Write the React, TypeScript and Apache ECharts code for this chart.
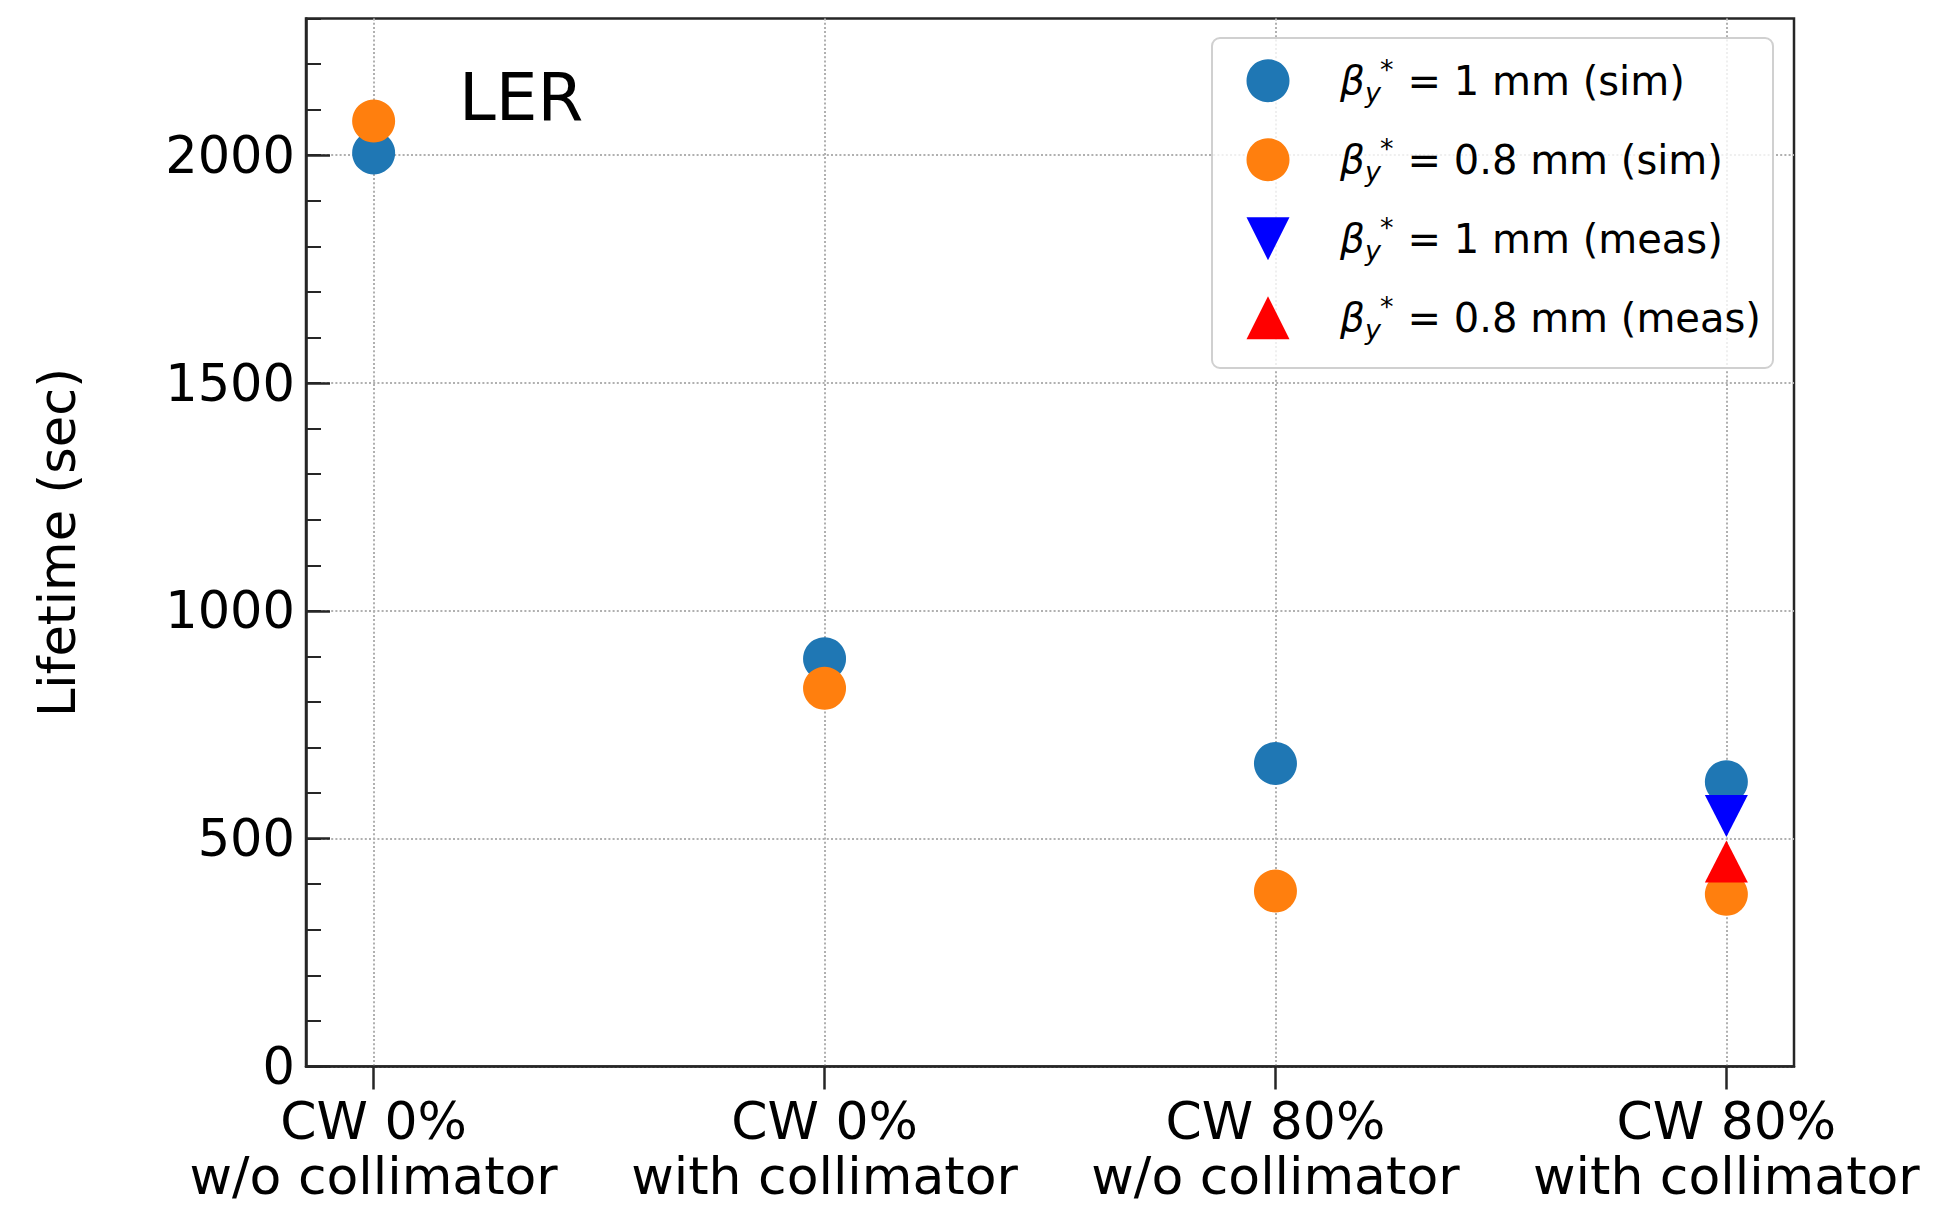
import React, { useEffect, useRef } from "react";
import * as echarts from "echarts";

const categories = [
  "CW 0%\nw/o collimator",
  "CW 0%\nwith collimator",
  "CW 80%\nw/o collimator",
  "CW 80%\nwith collimator",
];
const categoryPositions = [0, 1, 2, 3];
const sim1mm = [2005, 895, 665, 625];
const sim08mm = [2075, 830, 385, 378];
const meas1mm: (number | null)[] = [null, null, null, 550];
const meas08mm: (number | null)[] = [null, null, null, 450];
const yTicks = [0, 500, 1000, 1500, 2000];
const yMax = 2300;
const legendTails = ["= 1 mm (sim)", "= 0.8 mm (sim)", "= 1 mm (meas)", "= 0.8 mm (meas)"];
const seriesNames = legendTails.map((t) => "β_y^* " + t);

const FONT = "DejaVu Sans";
const AXIS_COLOR = "#262626";

function toPoints(vals: (number | null)[]) {
  const out: [number, number][] = [];
  vals.forEach((v, i) => {
    if (v != null) out.push([categoryPositions[i], v]);
  });
  return out;
}

export default function App() {
  const ref = useRef<HTMLDivElement>(null);
  useEffect(() => {
    if (!ref.current) return;
    const chart = echarts.init(ref.current, undefined, { renderer: "svg" });
    const option: any = {
      animation: false,
      textStyle: { fontFamily: FONT },
      grid: {
        left: 306,
        right: 147,
        top: 18.5,
        bottom: 141.5,
        show: true,
        borderColor: AXIS_COLOR,
        borderWidth: 2.5,
        backgroundColor: "transparent",
        containLabel: false,
        outerBoundsMode: "none",
      },
      xAxis: {
        type: "value",
        min: -0.15,
        max: 3.15,
        axisLine: { show: true, onZero: false, lineStyle: { color: AXIS_COLOR, width: 2.5 } },
        axisTick: {
          show: true,
          inside: false,
          length: 23,
          customValues: categoryPositions,
          lineStyle: { color: AXIS_COLOR, width: 2.5 },
        },
        axisLabel: {
          customValues: categoryPositions,
          formatter: (v: number) => {
            const c = categories[Math.round(v)];
            if (!c) return "";
            const [l1, l2] = c.split("\n");
            return "{a|" + l1 + "}\n{b|" + l2 + "}";
          },
          fontFamily: FONT,
          fontSize: 52,
          color: "#000",
          margin: 22.5,
          rich: {
            a: { fontFamily: FONT, fontSize: 52, lineHeight: 64, color: "#000" },
            b: { fontFamily: FONT, fontSize: 52, lineHeight: 46, color: "#000" },
          },
        },
        splitLine: {
          show: true,
          lineStyle: { color: "#b0b0b0", width: 2, type: [2, 2.2] },
        },
      },
      yAxis: [
        {
          type: "value",
          min: 0,
          max: yMax,
          interval: 500,
          name: "Lifetime (sec)",
          nameLocation: "middle",
          nameGap: 223,
          nameTextStyle: { fontFamily: FONT, fontSize: 51, color: "#000" },
          axisLine: { show: true, onZero: false, lineStyle: { color: AXIS_COLOR, width: 2.5 } },
          axisTick: {
            show: true,
            inside: true,
            length: 24,
            customValues: yTicks,
            lineStyle: { color: AXIS_COLOR, width: 2.5 },
          },
          axisLabel: {
            customValues: yTicks,
            formatter: (v: number) => String(v),
            fontFamily: FONT,
            fontSize: 51,
            color: "#000",
            margin: 11,
          },
          splitLine: {
            show: true,
            lineStyle: { color: "#b0b0b0", width: 2, type: [2, 2.2] },
          },
        },
        {
          type: "value",
          min: 0,
          max: yMax,
          interval: 100,
          position: "left",
          axisLine: { show: false, onZero: false },
          axisTick: {
            show: true,
            inside: true,
            length: 15,
            lineStyle: { color: AXIS_COLOR, width: 2 },
          },
          axisLabel: { show: false },
          splitLine: { show: false },
        },
      ],
      legend: {
        orient: "vertical",
        left: 1246.5,
        top: 55.7,
        padding: 0,
        itemWidth: 43,
        itemHeight: 43,
        itemGap: 29,
        selectedMode: false,
        z: 5,
        data: [
          { name: seriesNames[0], icon: "circle" },
          { name: seriesNames[1], icon: "circle" },
          { name: seriesNames[2], icon: "path://M0,0L2,0L1,2Z" },
          { name: seriesNames[3], icon: "triangle" },
        ],
        formatter: (name: string) => {
          const i = seriesNames.indexOf(name);
          return "{sp|}{b|β}{sub|y}{sup|*}{t| " + legendTails[i] + "}";
        },
        textStyle: {
          fontFamily: FONT,
          fontSize: 40,
          color: "#000",
          rich: {
            sp: { width: 45.5, lineHeight: 50 },
            b: { fontFamily: FONT, fontSize: 39, fontStyle: "italic", lineHeight: 50, color: "#000" },
            sub: {
              fontFamily: FONT,
              fontSize: 27,
              fontStyle: "italic",
              verticalAlign: "bottom",
              lineHeight: 34,
              width: 15,
              color: "#000",
            },
            sup: {
              fontFamily: FONT,
              fontSize: 27,
              verticalAlign: "top",
              lineHeight: 18,
              width: 15,
              color: "#000",
            },
            t: { fontFamily: FONT, fontSize: 40, lineHeight: 50, color: "#000" },
          },
        },
      },
      graphic: [
        {
          type: "rect",
          z: 3,
          shape: { x: 1212, y: 38, width: 561, height: 330, r: 8 },
          style: { fill: "rgba(255,255,255,0.8)", stroke: "#d0d0d0", lineWidth: 2 },
        },
        {
          type: "text",
          z: 3,
          style: {
            text: "LER",
            x: 459,
            y: 97,
            verticalAlign: "middle",
            fontFamily: FONT,
            fontSize: 66,
            fill: "#000",
          },
        },
      ],
      series: [
        {
          name: seriesNames[0],
          type: "scatter",
          symbol: "circle",
          symbolSize: 43,
          itemStyle: { color: "#1f77b4", opacity: 1 },
          data: toPoints(sim1mm),
        },
        {
          name: seriesNames[1],
          type: "scatter",
          symbol: "circle",
          symbolSize: 43,
          itemStyle: { color: "#ff7f0e", opacity: 1 },
          data: toPoints(sim08mm),
        },
        {
          name: seriesNames[2],
          type: "scatter",
          symbol: "triangle",
          symbolRotate: 180,
          symbolSize: [43, 42],
          itemStyle: { color: "#0000ff", opacity: 1 },
          data: toPoints(meas1mm),
        },
        {
          name: seriesNames[3],
          type: "scatter",
          symbol: "triangle",
          symbolSize: [43, 42],
          itemStyle: { color: "#ff0000", opacity: 1 },
          data: toPoints(meas08mm),
        },
      ],
    };
    chart.setOption(option);
    return () => chart.dispose();
  }, []);
  return (
    <div
      ref={ref}
      style={{ position: "fixed", left: 0, top: 0, width: "1941px", height: "1208px", background: "#fff" }}
    />
  );
}
